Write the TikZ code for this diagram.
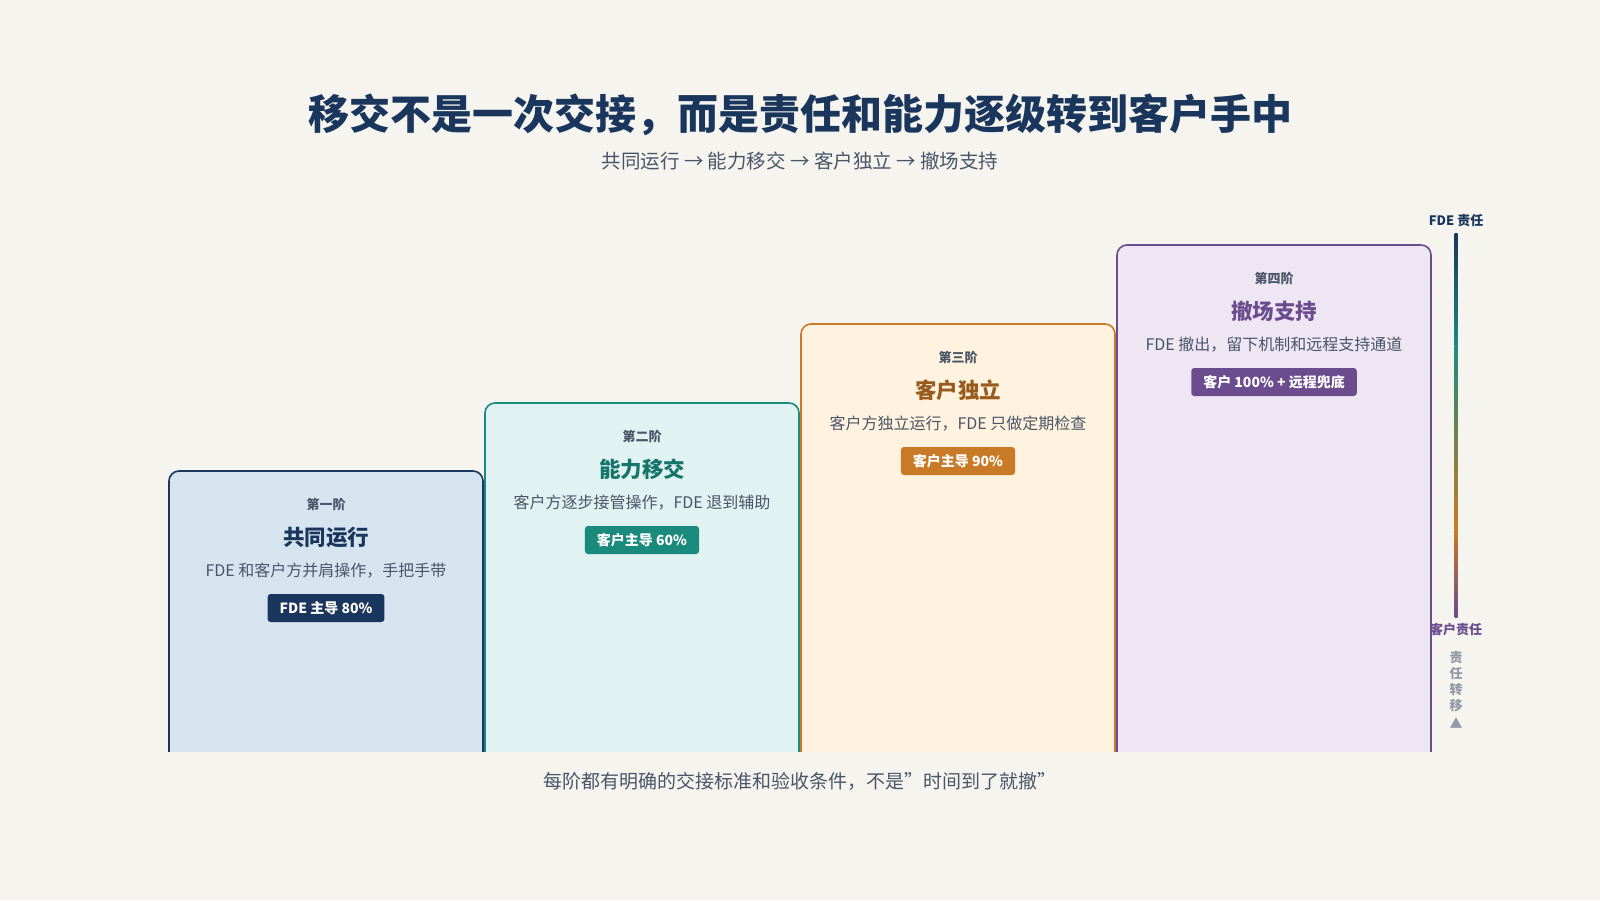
\documentclass[tikz,border=0pt]{standalone}
\usepackage{fontspec}
\setmainfont{Noto Sans CJK SC}
\usetikzlibrary{positioning}
\definecolor{bg}{HTML}{F5F4EE}
\definecolor{navy}{HTML}{1B365D}
\definecolor{teal}{HTML}{1A8A7D}
\definecolor{amber}{HTML}{C97A26}
\definecolor{plum}{HTML}{6B4C8E}
\definecolor{fillA}{HTML}{D6E4F0}
\definecolor{fillB}{HTML}{E0F2F1}
\definecolor{fillC}{HTML}{FFF3E0}
\definecolor{fillD}{HTML}{EFE6F3}
\definecolor{grey}{HTML}{4A5568}
\tikzset{
  stage/.style = {font=\fontsize{13}{15}\selectfont\bfseries, text=grey},
  stepname/.style = {font=\fontsize{21.5}{25}\selectfont\bfseries},
  desc/.style = {font=\fontsize{16}{18}\selectfont, text=grey},
  badge/.style = {font=\fontsize{14}{16}\selectfont\bfseries, text=white,
    rounded corners=3pt, inner xsep=12pt, minimum height=28pt},
}
\begin{document}
\begin{tikzpicture}[x=1pt, y=-1pt]
        \fill [bg] (0, 0) rectangle (1600, 900);
        \useasboundingbox (0, 0) rectangle (1600, 900);
        \node [font=\fontsize{41}{46}\selectfont\bfseries, text=navy] (title) at (800, 115)
            {移交不是一次交接，而是责任和能力逐级转到客户手中};
        \node [font=\fontsize{19.5}{22}\selectfont, text=grey] (subtitle) at (800, 161)
            {共同运行 → 能力移交 → 客户独立 → 撤场支持};
        % the four steps
        \foreach \i/\x/\top/\fc/\lc/\tc/\st/\nm/\ds/\bd in {
            1/169/471/fillA/navy/navy/第一阶/共同运行/{FDE 和客户方并肩操作，手把手带}/{FDE 主导 80\%},
            2/485/403/fillB/teal/teal!85!black/第二阶/能力移交/{客户方逐步接管操作，FDE 退到辅助}/{客户主导 60\%},
            3/801/324/fillC/amber/amber!75!black/第三阶/客户独立/{客户方独立运行，FDE 只做定期检查}/{客户主导 90\%},
            4/1117/245/fillD/plum/plum/第四阶/撤场支持/{FDE 撤出，留下机制和远程支持通道}/{客户 100\% + 远程兜底}}
        {
            \draw [fill=\fc, draw=\lc, line width=1.6pt, rounded corners=10pt]
                (\x, 752) -- (\x, \top) -- (\x+314, \top) -- (\x+314, 752);
            \node [stage] (stage\i) at (\x+157, \top+34) {\st};
            \node [stepname, text=\tc] (name\i) at (\x+157, \top+66) {\nm};
            \node [desc] (desc\i) at (\x+157, \top+100) {\ds};
            \node [badge, fill=\lc] (badge\i) at (\x+157, \top+137) {\bd};
        }
        \fill [bg] (150, 752) rectangle (1450, 770);
        \node [font=\fontsize{19}{22}\selectfont, text=grey] (note) at (800, 781)
            {每阶都有明确的交接标准和验收条件，不是{\char"22}时间到了就撤{\char"22}};
        % responsibility scale
        \node [font=\fontsize{13}{15}\selectfont\bfseries, text=navy] (fde) at (1456, 221) {FDE 责任};
        \node [font=\fontsize{13}{15}\selectfont\bfseries, text=plum] (client) at (1456, 630) {客户责任};
        \shade [top color=navy, bottom color=teal] (1454.5, 233) rectangle (1457.5, 346);
        \shade [top color=teal, bottom color=amber] (1454.5, 346) rectangle (1457.5, 530);
        \shade [top color=amber, bottom color=plum] (1454.5, 530) rectangle (1457.5, 617);
        \node [font=\fontsize{13}{16}\selectfont\bfseries, text=grey!60, align=center,
            below=8pt of client] (shift) {责\\任\\转\\移\\[2pt]▲};
\end{tikzpicture}
\end{document}
